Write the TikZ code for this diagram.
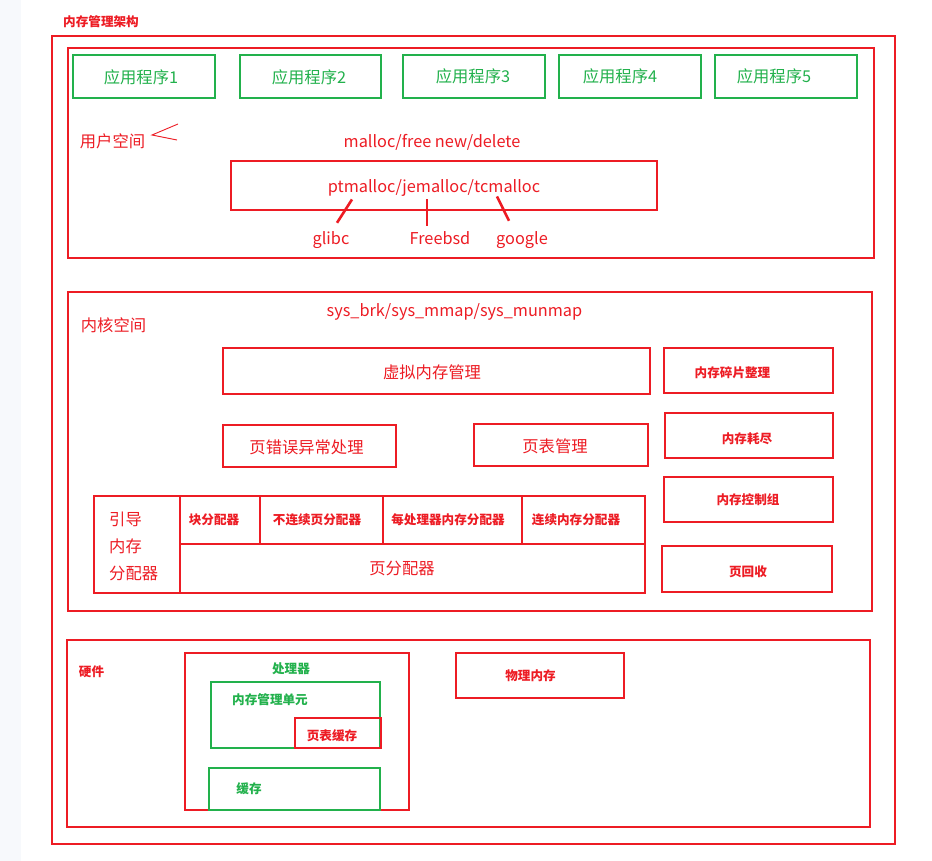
\documentclass[tikz,border=0pt]{standalone}
\usepackage{fontspec}
\setmainfont{Noto Sans CJK SC}
\usetikzlibrary{calc}
\definecolor{pred}{RGB}{237,28,36}
\definecolor{pgreen}{RGB}{34,177,76}
\definecolor{sidestrip}{RGB}{247,249,252}

\begin{document}
\begin{tikzpicture}[x=1pt,y=-1pt,
  rbox/.style={draw=pred, line width=2.9pt, inner sep=0pt, rectangle},
  gbox/.style={draw=pgreen, line width=2.9pt, inner sep=0pt, rectangle},
  big/.style={font=\fontsize{16.3}{20}\selectfont, inner sep=0pt, text height=12.4pt, text depth=0pt},
  small/.style={font=\bfseries\fontsize{12.6}{15}\selectfont, inner sep=0pt, text height=9.6pt, text depth=0pt},
  rtxt/.style={text=pred},
  gtxt/.style={text=pgreen},
  link/.style={draw=pred, line width=2.6pt}
]
\useasboundingbox (0,0) rectangle (932,861);
\fill[white] (0,0) rectangle (932,861);
\fill[sidestrip] (0,0) rectangle (21,861);

% title and frame
\node[small, rtxt] (title) at (101,22) {内存管理架构};
\node[rbox, minimum width=843pt, minimum height=808pt] (outer) at (473.5,440) {};

% ---------------- user space ----------------
\node[rbox, minimum width=806pt, minimum height=210pt] (user) at (471,153) {};
\node[gbox, minimum width=142pt, minimum height=43pt] (app1) at (144,76.5) {};
\node[gbox, minimum width=141pt, minimum height=43pt] (app2) at (310.5,76.5) {};
\node[gbox, minimum width=142pt, minimum height=43pt] (app3) at (474,76.5) {};
\node[gbox, minimum width=142pt, minimum height=43pt] (app4) at (630,76.5) {};
\node[gbox, minimum width=142pt, minimum height=43pt] (app5) at (786,76.5) {};
\node[big, gtxt] (app1t) at (141,77) {应用程序1};
\node[big, gtxt] (app2t) at (309,77) {应用程序2};
\node[big, gtxt] (app3t) at (473,76) {应用程序3};
\node[big, gtxt] (app4t) at (620,76) {应用程序4};
\node[big, gtxt] (app5t) at (774,76) {应用程序5};

\node[big, rtxt] (usert) at (112.5,141) {用户空间};
\draw[pred, line width=0.9pt] (178,124) -- (152,135) -- (177,140);

\node[big, rtxt] (mallocapi) at (432,141) {malloc/free new/delete};
\node[rbox, minimum width=426pt, minimum height=49pt] (ptbox) at (444,185.5) {};
\node[big, rtxt] (ptl) at (434,186) {ptmalloc/jemalloc/tcmalloc};
\node[big, rtxt] (glibc) at (331,238) {glibc};
\node[big, rtxt] (freebsd) at (440,238) {Freebsd};
\node[big, rtxt] (google) at (522,238) {google};
\draw[link] ($(ptbox.south)+(-92,-12)$) -- ($(glibc.north)+(6,-8.8)$);
\draw[link] ($(ptbox.south)+(-17,-12)$) -- ($(freebsd.north)+(-13,-5.8)$);
\draw[link] ($(ptbox.south)+(53,-15)$) -- ($(google.north)+(-13,-10.8)$);

% ---------------- kernel space ----------------
\node[rbox, minimum width=804pt, minimum height=319pt] (kernel) at (470,451.5) {};
\node[big, rtxt] (syscalls) at (454.5,310) {sys\_brk/sys\_mmap/sys\_munmap};
\node[big, rtxt] (kernelt) at (113.5,325) {内核空间};

\node[rbox, minimum width=427pt, minimum height=46pt] (vmm) at (436.5,371) {};
\node[big, rtxt] (vmmt) at (432,372) {虚拟内存管理};
\node[rbox, minimum width=173pt, minimum height=42pt] (pf) at (309.5,446) {};
\node[big, rtxt] (pft) at (306.5,447) {页错误异常处理};
\node[rbox, minimum width=174pt, minimum height=42pt] (pt) at (561,445) {};
\node[big, rtxt] (ptt) at (555,446) {页表管理};

\node[rbox, minimum width=169pt, minimum height=45pt] (compact) at (748.5,370.5) {};
\node[small, rtxt] (compactt) at (732.5,373) {内存碎片整理};
\node[rbox, minimum width=168pt, minimum height=45pt] (oom) at (749,435.5) {};
\node[small, rtxt] (oomt) at (747,439) {内存耗尽};
\node[rbox, minimum width=169pt, minimum height=45pt] (memcg) at (748.5,499.5) {};
\node[small, rtxt] (memcgt) at (748,500) {内存控制组};
\node[rbox, minimum width=170pt, minimum height=46pt] (reclaim) at (747,569) {};
\node[small, rtxt] (reclaimt) at (748,572) {页回收};

% allocators
\node[rbox, minimum width=86pt, minimum height=97pt] (boot) at (137,544.5) {};
\node[big, rtxt, anchor=west] (boot1) at (109,519) {引导};
\node[big, rtxt, anchor=west] (boot2) at (109,546) {内存};
\node[big, rtxt, anchor=west] (boot3) at (109,573) {分配器};
\node[rbox, minimum width=80pt, minimum height=48pt] (slab) at (220,520) {};
\node[small, rtxt] (slabt) at (214,520) {块分配器};
\node[rbox, minimum width=123pt, minimum height=48pt] (vmalloc) at (321.5,520) {};
\node[small, rtxt] (vmalloct) at (317,520) {不连续页分配器};
\node[rbox, minimum width=139pt, minimum height=48pt] (percpu) at (452.5,520) {};
\node[small, rtxt] (percput) at (448,520) {每处理器内存分配器};
\node[rbox, minimum width=123pt, minimum height=48pt] (cma) at (583.5,520) {};
\node[small, rtxt] (cmat) at (576,520) {连续内存分配器};
\node[rbox, minimum width=465pt, minimum height=49pt] (buddy) at (412.5,568.5) {};
\node[big, rtxt] (buddyt) at (402,568) {页分配器};

% ---------------- hardware ----------------
\node[rbox, minimum width=803pt, minimum height=187pt] (hw) at (468.5,733.5) {};
\node[small, rtxt] (hwt) at (91.5,672) {硬件};
\node[rbox, minimum width=224pt, minimum height=157pt] (cpu) at (297,731.5) {};
\node[small, gtxt] (cput) at (291,669) {处理器};
\node[gbox, minimum width=169pt, minimum height=66pt] (mmu) at (295.5,715) {};
\node[small, gtxt] (mmut) at (270,700) {内存管理单元};
\node[rbox, minimum width=86pt, minimum height=30pt] (tlb) at (338,733) {};
\node[small, rtxt] (tlbt) at (332,736) {页表缓存};
\node[gbox, minimum width=171pt, minimum height=42pt] (cache) at (294.5,789) {};
\node[small, gtxt] (cachet) at (249,789) {缓存};
\node[rbox, minimum width=168pt, minimum height=45pt] (ram) at (540,675.5) {};
\node[small, rtxt] (ramt) at (530.5,676) {物理内存};
\end{tikzpicture}
\end{document}
